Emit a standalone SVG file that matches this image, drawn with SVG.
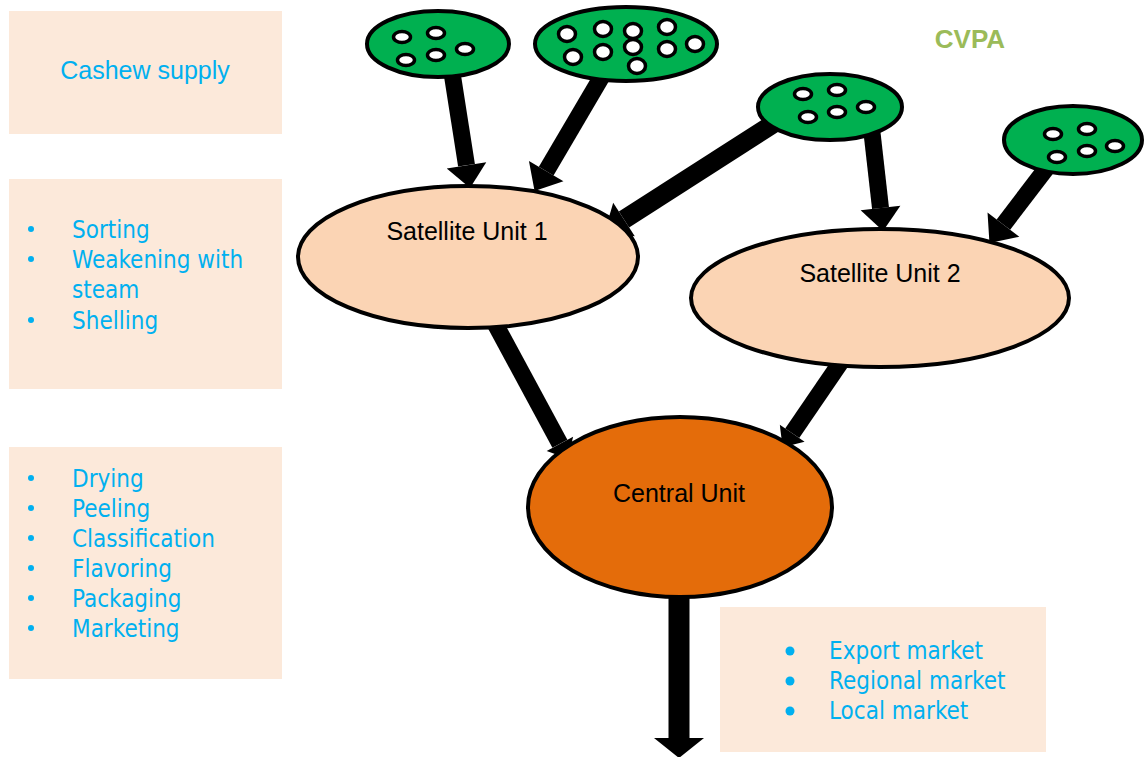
<svg xmlns="http://www.w3.org/2000/svg" width="1144" height="757" viewBox="0 0 1144 757">
<defs>
<style>
.box{fill:#FCE9DA}
.lst{font-family:"DejaVu Sans Condensed","DejaVu Sans",sans-serif;font-stretch:condensed;font-size:24px;fill:#00B0F0}
.bul{fill:#00B0F0}
.lbl{font-family:"Liberation Sans",Arial,sans-serif;font-size:25px;fill:#000;text-anchor:middle}
.sat{fill:#FBD4B4;stroke:#000;stroke-width:4}
.cen{fill:#E46C0A;stroke:#000;stroke-width:4}
.grn{fill:#00B050;stroke:#000;stroke-width:4}
.dot{fill:#fff;stroke:#000;stroke-width:3.5}
.arr{stroke:#000;stroke-width:17;fill:none}
</style>
<marker id="hd" markerUnits="userSpaceOnUse" orient="auto" overflow="visible" markerWidth="1" markerHeight="1" refX="0" refY="0"><path d="M0,-20 L23,0 L0,20 Z" fill="#000"/></marker>
<marker id="hs" markerUnits="userSpaceOnUse" orient="auto" overflow="visible" markerWidth="1" markerHeight="1" refX="0" refY="0"><path d="M0,-15 L17,0 L0,15 Z" fill="#000"/></marker>
<marker id="hb" markerUnits="userSpaceOnUse" orient="auto" overflow="visible" markerWidth="1" markerHeight="1" refX="0" refY="0"><path d="M0,-25 L20,0 L0,25 Z" fill="#000"/></marker>
</defs>
<rect width="1144" height="757" fill="#fff"/>

<g id="box-supply"><rect class="box" x="9" y="11" width="273" height="123"/>
<text x="145" y="79" style="font-family:'Liberation Sans',Arial,sans-serif;font-size:25px;fill:#00B0F0" text-anchor="middle">Cashew supply</text></g>

<g id="box-satellite-tasks"><rect class="box" x="9" y="179" width="273" height="210"/>
<circle class="bul" cx="31" cy="229" r="3"/><text class="lst" x="72" y="238">Sorting</text>
<circle class="bul" cx="31" cy="259" r="3"/><text class="lst" x="72" y="268">Weakening with</text>
<text class="lst" x="72" y="298">steam</text>
<circle class="bul" cx="31" cy="320" r="3"/><text class="lst" x="72" y="329">Shelling</text></g>

<g id="box-central-tasks"><rect class="box" x="9" y="447" width="273" height="232"/>
<circle class="bul" cx="31" cy="478" r="3"/><text class="lst" x="72" y="487">Drying</text>
<circle class="bul" cx="31" cy="508" r="3"/><text class="lst" x="72" y="517">Peeling</text>
<circle class="bul" cx="31" cy="538" r="3"/><text class="lst" x="72" y="547">Classification</text>
<circle class="bul" cx="31" cy="568" r="3"/><text class="lst" x="72" y="577">Flavoring</text>
<circle class="bul" cx="31" cy="598" r="3"/><text class="lst" x="72" y="607">Packaging</text>
<circle class="bul" cx="31" cy="628" r="3"/><text class="lst" x="72" y="637">Marketing</text></g>

<g id="box-markets"><rect class="box" x="720" y="607" width="326" height="145"/>
<circle class="bul" cx="790" cy="651" r="4.5"/><text class="lst" x="829" y="659">Export market</text>
<circle class="bul" cx="790" cy="681" r="4.5"/><text class="lst" x="829" y="689">Regional market</text>
<circle class="bul" cx="790" cy="711" r="4.5"/><text class="lst" x="829" y="719">Local market</text></g>

<g id="title"><text x="970" y="48" style="font-family:'Liberation Sans',Arial,sans-serif;font-size:26px;font-weight:bold;fill:#9BBB59" text-anchor="middle">CVPA</text></g>

<g id="connectors">
<line class="arr" x1="450" y1="60" x2="466.5" y2="165.3" marker-end="url(#hd)"/>
<line class="arr" x1="608" y1="66" x2="546.2" y2="171.1" marker-end="url(#hd)"/>
<line class="arr" x1="790" y1="113" x2="624" y2="219.5" style="stroke-width:19" marker-end="url(#hd)"/>
<line class="arr" x1="870" y1="115" x2="880.5" y2="208.1" marker-end="url(#hd)"/>
<line class="arr" x1="1055" y1="157" x2="1003.4" y2="224.6" marker-end="url(#hd)"/>
<line class="arr" x1="485" y1="305" x2="559.9" y2="443.8" marker-end="url(#hs)"/>
<line class="arr" x1="845" y1="356" x2="792.2" y2="433.2" marker-end="url(#hs)"/>
<line class="arr" x1="679" y1="590" x2="679" y2="738" style="stroke-width:21" marker-end="url(#hb)"/>
</g>

<g id="farm-1"><ellipse class="grn" cx="438" cy="44" rx="71" ry="33"/>
<ellipse class="dot" cx="402" cy="37" rx="8.5" ry="5.5"/><ellipse class="dot" cx="436" cy="33" rx="8.5" ry="5.5"/>
<ellipse class="dot" cx="406" cy="60" rx="8.5" ry="5.5"/><ellipse class="dot" cx="436" cy="55" rx="8.5" ry="5.5"/>
<ellipse class="dot" cx="465" cy="49" rx="8.5" ry="5.5"/></g>

<g id="farm-2"><ellipse class="grn" cx="626" cy="44" rx="91" ry="37"/>
<ellipse class="dot" cx="567" cy="34" rx="8.5" ry="7.5"/><ellipse class="dot" cx="603" cy="29" rx="8.5" ry="7.5"/>
<ellipse class="dot" cx="633" cy="31" rx="8.5" ry="7.5"/><ellipse class="dot" cx="667" cy="27" rx="8.5" ry="7.5"/>
<ellipse class="dot" cx="573" cy="57" rx="8.5" ry="7.5"/><ellipse class="dot" cx="603" cy="52" rx="8.5" ry="7.5"/>
<ellipse class="dot" cx="633" cy="47" rx="8.5" ry="7.5"/><ellipse class="dot" cx="667" cy="49" rx="8.5" ry="7.5"/>
<ellipse class="dot" cx="695" cy="44" rx="8.5" ry="7.5"/><ellipse class="dot" cx="637" cy="66" rx="8.5" ry="7.5"/></g>

<g id="farm-3"><ellipse class="grn" cx="830" cy="107" rx="72" ry="33"/>
<ellipse class="dot" cx="803" cy="94" rx="8.5" ry="5.5"/><ellipse class="dot" cx="837" cy="90" rx="8.5" ry="5.5"/>
<ellipse class="dot" cx="808" cy="117" rx="8.5" ry="5.5"/><ellipse class="dot" cx="837" cy="112" rx="8.5" ry="5.5"/>
<ellipse class="dot" cx="866" cy="107" rx="8.5" ry="5.5"/></g>

<g id="farm-4"><ellipse class="grn" cx="1073" cy="140" rx="69" ry="34"/>
<ellipse class="dot" cx="1053" cy="134" rx="8.5" ry="5.5"/><ellipse class="dot" cx="1087" cy="129" rx="8.5" ry="5.5"/>
<ellipse class="dot" cx="1057" cy="157" rx="8.5" ry="5.5"/><ellipse class="dot" cx="1087" cy="151" rx="8.5" ry="5.5"/>
<ellipse class="dot" cx="1115" cy="146" rx="8.5" ry="5.5"/></g>

<g id="satellite-1"><ellipse class="sat" cx="468" cy="257" rx="170" ry="71"/>
<text class="lbl" x="467" y="240">Satellite Unit 1</text></g>

<g id="satellite-2"><ellipse class="sat" cx="880" cy="298" rx="189" ry="69"/>
<text class="lbl" x="880" y="282">Satellite Unit 2</text></g>

<g id="central"><ellipse class="cen" cx="680" cy="507" rx="152" ry="90"/>
<text class="lbl" x="679" y="502">Central Unit</text></g>
</svg>
